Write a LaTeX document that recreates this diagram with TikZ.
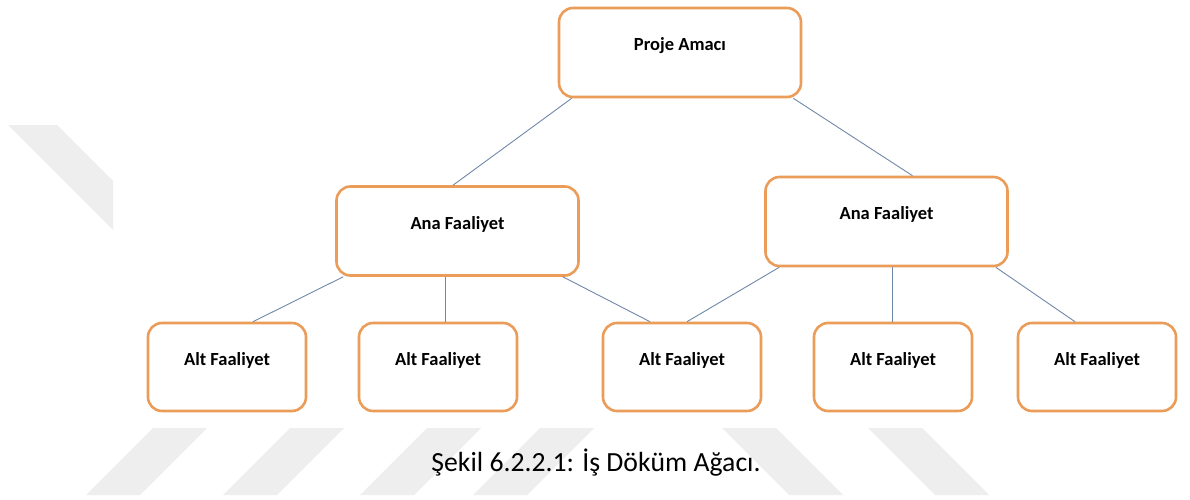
\documentclass[tikz,border=0pt]{standalone}
\usepackage{fontspec}
\setmainfont{Carlito}
\usetikzlibrary{positioning}
\definecolor{boxline}{RGB}{235,156,88}
\definecolor{linkline}{RGB}{112,136,168}
\definecolor{mark}{RGB}{238,238,238}
\tikzset{
  task/.style={draw=boxline, line width=2.6pt, rounded corners=14pt, fill=white,
    rectangle, inner sep=0pt, text height=12pt, text depth=16pt,
    font=\fontsize{18.5}{20}\selectfont\bfseries},
  wide/.style={task, minimum width=242pt, minimum height=89pt},
  leaf/.style={task, minimum width=158pt, minimum height=88pt},
  link/.style={draw=linkline, line width=0.9pt},
  band/.style={fill=mark, draw=none}
}
\begin{document}
\begin{tikzpicture}[x=1pt, y=-1pt]
\useasboundingbox (0,0) rectangle (1190,500);
\fill[white] (0,0) rectangle (1190,500);

% faint chevron marks in the margins
\fill[band] (8,125) -- (57,125) -- (113,181) -- (113,230) -- cycle;
\foreach \t in {153,290,427,540}
  \fill[band] (\t,428) -- (\t+54,428) -- (\t-13,495) -- (\t-67,495) -- cycle;
\foreach \t in {722,868}
  \fill[band] (\t,428) -- (\t+54,428) -- (\t+121,495) -- (\t+67,495) -- cycle;

% boxes
\node[wide] (pa) at (680,52.5) {Proje Amacı};
\node[wide] (al) at (457.5,231) {Ana Faaliyet};
\node[wide] (ar) at (886.5,221.5) {Ana Faaliyet};
\node[leaf] (s1) at (227,367) {Alt Faaliyet};
\node[leaf] (s2) at (438,367) {Alt Faaliyet};
\node[leaf] (s3) at (682,367) {Alt Faaliyet};
\node[leaf] (s4) at (893,367) {Alt Faaliyet};
\node[leaf] (s5) at (1097,367) {Alt Faaliyet};

% connectors
\draw[link] ([xshift=14pt]pa.south west) -- ([xshift=-4.5pt]al.north);
\draw[link] ([xshift=-9pt]pa.south east) -- ([xshift=26pt]ar.north);
\draw[link] ([xshift=8pt]al.south west) -- ([xshift=26pt]s1.north);
\draw[link] ([xshift=-12.5pt]al.south) -- ([xshift=7pt]s2.north);
\draw[link] ([xshift=-17pt]al.south east) -- ([xshift=-32pt]s3.north);
\draw[link] ([xshift=15pt]ar.south west) -- ([xshift=5pt]s3.north);
\draw[link] ([xshift=5.5pt]ar.south) -- ([xshift=-1pt]s4.north);
\draw[link] ([xshift=-13pt]ar.south east) -- ([xshift=-22pt]s5.north);

% caption
\node[anchor=base, inner sep=0pt, font=\fontsize{27.7}{30}\selectfont] (cap) at (596,471)
  {Şekil 6.2.2.1: İş Döküm Ağacı.};
\end{tikzpicture}
\end{document}
